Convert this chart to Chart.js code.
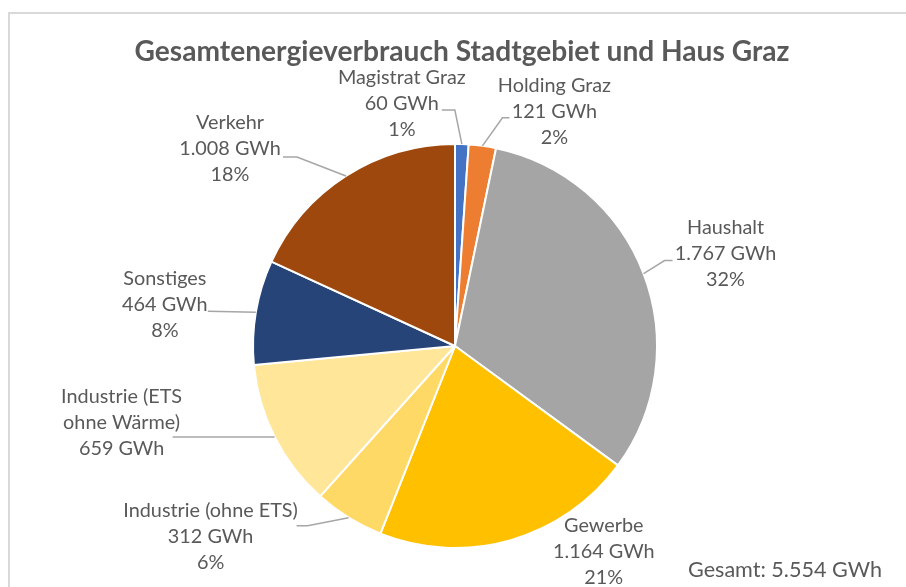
<!DOCTYPE html>
<html>
<head>
<meta charset="utf-8">
<script src="https://cdn.jsdelivr.net/npm/chart.js@4"></script>
<style>
  html, body { margin: 0; padding: 0; background: #fff; }
  #wrap { width: 906px; height: 587px; position: relative; }
</style>
</head>
<body>
<div id="wrap"><canvas id="pieChart" width="906" height="587"></canvas></div>
<script>
// Daten aus dem Diagramm
const categories = ['Magistrat Graz', 'Holding Graz', 'Haushalt', 'Gewerbe', 'Industrie (ohne ETS)', 'Industrie (ETS ohne Wärme)', 'Sonstiges', 'Verkehr'];
const valuesGWh = [60, 121, 1767, 1164, 312, 659, 464, 1008];
const percentLabels = ['1%', '2%', '32%', '21%', '6%', null, '8%', '18%'];
const totalLabel = 'Gesamt: 5.554 GWh';
const chartTitle = 'Gesamtenergieverbrauch Stadtgebiet und Haus Graz';

const sliceColors = ['#4472C4', '#ED7D31', '#A5A5A5', '#FFC000', '#FFD966', '#FFE699', '#264478', '#9E480E'];

// Lage der Beschriftungen relativ zum Rand des Segments (Mitte des Bogens)
const labelPlacement = [
  { dx: -60, dy: -41, leader: [[-7, -34], [-20, -34]] },
  { dx: 72, dy: -34, leader: [[20, -28], [27, -28]] },
  { dx: 82, dy: -20, leader: [[21, -13], [29, -13]] },
  { dx: 93, dy: 11, leader: null },
  { dx: -138, dy: 19, leader: [[-41, 8], [-52, 8]] },
  { dx: -153, dy: -14, leader: [[-102, 0]], wrap: 135 },
  { dx: -91, dy: -8, leader: [[-48, -1]] },
  { dx: -116, dy: -27, leader: [[-49, -19], [-63, -19]] }
];

const FONT = 'Lato, "Open Sans", sans-serif';
const TEXT_COLOR = '#595959';
const LINE_H = 26;

// deutsche Tausendertrennung
function fmt(v) {
  return String(v).replace(/\B(?=(\d{3})+(?!\d))/g, '.') + ' GWh';
}

// Schriftgröße so wählen, dass der Text die gewünschte Breite hat
function fitSize(ctx, text, width, weight) {
  ctx.font = weight + ' 100px ' + FONT;
  return 100 * width / ctx.measureText(text).width;
}

function wrapText(ctx, text, maxW) {
  if (!maxW) return [text];
  const words = text.split(' ');
  const lines = [];
  let cur = '';
  words.forEach(w => {
    const test = cur ? cur + ' ' + w : w;
    if (cur && ctx.measureText(test).width > maxW) {
      lines.push(cur);
      cur = w;
    } else {
      cur = test;
    }
  });
  if (cur) lines.push(cur);
  return lines;
}

const labelPlugin = {
  id: 'excelLabels',
  beforeDraw(chart) {
    const ctx = chart.ctx;
    ctx.save();
    // Rahmen (nur links und oben sichtbar)
    ctx.strokeStyle = '#d9d9d9';
    ctx.lineWidth = 2;
    ctx.beginPath();
    ctx.moveTo(9, 600);
    ctx.lineTo(9, 13);
    ctx.lineTo(920, 13);
    ctx.stroke();
    ctx.restore();
  },
  afterDraw(chart) {
    const ctx = chart.ctx;
    const meta = chart.getDatasetMeta(0);
    ctx.save();

    // Titel
    const titleSize = fitSize(ctx, chartTitle, 655, 'bold');
    ctx.font = 'bold ' + titleSize + 'px ' + FONT;
    ctx.fillStyle = TEXT_COLOR;
    ctx.textAlign = 'center';
    ctx.textBaseline = 'middle';
    ctx.fillText(chartTitle, 462, 52);

    const labelSize = fitSize(ctx, 'Magistrat Graz', 128, 'normal');
    ctx.font = labelSize + 'px ' + FONT;

    meta.data.forEach((arc, i) => {
      const p = labelPlacement[i];
      const mid = (arc.startAngle + arc.endAngle) / 2;
      const ax = arc.x + Math.cos(mid) * arc.outerRadius;
      const ay = arc.y + Math.sin(mid) * arc.outerRadius;

      // Führungslinie
      if (p.leader) {
        ctx.strokeStyle = '#a6a6a6';
        ctx.lineWidth = 1.5;
        ctx.beginPath();
        ctx.moveTo(ax, ay);
        p.leader.forEach(pt => ctx.lineTo(ax + pt[0], ay + pt[1]));
        ctx.stroke();
      }

      const lines = wrapText(ctx, categories[i], p.wrap).concat([fmt(valuesGWh[i])]);
      if (percentLabels[i]) lines.push(percentLabels[i]);
      const cx = ax + p.dx;
      const cy = ay + p.dy;
      const top = cy - (lines.length - 1) * LINE_H / 2;
      ctx.fillStyle = TEXT_COLOR;
      lines.forEach((t, k) => ctx.fillText(t, cx, top + k * LINE_H));
    });

    // Gesamtsumme
    const totSize = fitSize(ctx, totalLabel, 194, 'normal');
    ctx.font = totSize + 'px ' + FONT;
    ctx.fillText(totalLabel, 785, 570);
    ctx.restore();
  }
};

new Chart(document.getElementById('pieChart').getContext('2d'), {
  type: 'pie',
  data: {
    labels: categories,
    datasets: [{
      data: valuesGWh,
      backgroundColor: sliceColors,
      borderColor: '#ffffff',
      borderWidth: 2,
      hoverOffset: 0
    }]
  },
  options: {
    responsive: false,
    animation: false,
    radius: 202,
    layout: { padding: { top: 105, bottom: 0, left: 4, right: 0 } },
    plugins: {
      legend: { display: false },
      title: { display: false },
      tooltip: { enabled: false }
    },
    events: []
  },
  plugins: [labelPlugin]
});
</script>
</body>
</html>
